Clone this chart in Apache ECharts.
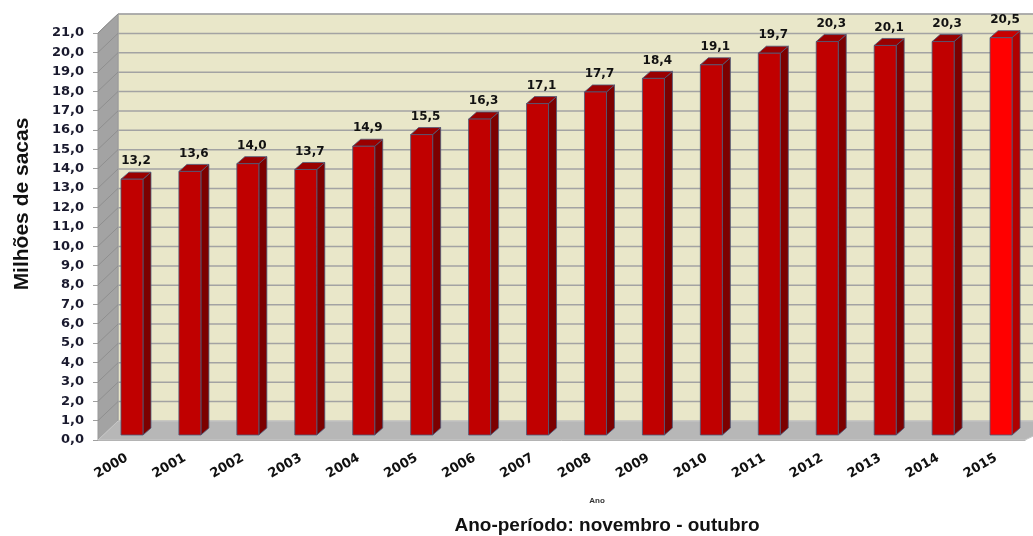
<!DOCTYPE html>
<html>
<head>
<meta charset="utf-8">
<script src="https://cdn.jsdelivr.net/npm/echarts@6/dist/echarts.min.js"></script>
<style>
    html, body { margin: 0; padding: 0; background: #ffffff; }
    #chart { width: 1033px; height: 536px; }
</style>
</head>
<body>
<div id="chart"></div>
<script>
    var years = ['2000', '2001', '2002', '2003', '2004', '2005', '2006', '2007',
                 '2008', '2009', '2010', '2011', '2012', '2013', '2014', '2015'];
    var sacas = [13.2, 13.6, 14.0, 13.7, 14.9, 15.5, 16.3, 17.1,
                 17.7, 18.4, 19.1, 19.7, 20.3, 20.1, 20.3, 20.5];
    var yTicks = [0, 1, 2, 3, 4, 5, 6, 7, 8, 9, 10, 11, 12, 13, 14, 15, 16, 17, 18, 19, 20, 21];

    var chart = echarts.init(document.getElementById('chart'));

    // profundidade da parede de fundo
    var BX = 20, BY = -19;
    // barra: recuo da face frontal e profundidade
    var FX = 5, FY = -5, DX = 8, DY = -7, BAR_W = 22;

    function fmt(v) {
        return v.toFixed(1).replace('.', ',');
    }

    function renderWalls(params, api) {
        var cs = params.coordSys;
        var x0 = cs.x, x1 = cs.x + cs.width;
        var yBottom = api.coord([0, 0])[1];
        var yTop = api.coord([0, 21])[1];
        var children = [];

        // parede de fundo
        children.push({
            type: 'rect',
            shape: { x: x0 + BX, y: yTop + BY, width: cs.width + 40, height: yBottom - yTop },
            style: { fill: '#e9e7c9', stroke: '#a8a8a8', lineWidth: 1 }
        });
        // parede lateral
        children.push({
            type: 'polygon',
            shape: { points: [[x0, yTop], [x0 + BX, yTop + BY], [x0 + BX, yBottom + BY], [x0, yBottom]] },
            style: { fill: '#a3a3a3', stroke: '#999999', lineWidth: 1 }
        });
        // chão
        children.push({
            type: 'polygon',
            shape: { points: [[x0, yBottom], [x0 + BX, yBottom + BY], [x1 + BX + 20, yBottom + BY], [x1, yBottom]] },
            style: { fill: '#b7b7b7', stroke: '#c8c8c8', lineWidth: 1 }
        });

        yTicks.forEach(function(v) {
            if (v === 0) return;
            var y = api.coord([0, v])[1];
            children.push({
                type: 'line',
                shape: { x1: x0 + BX, y1: y + BY, x2: x1 + BX + 40, y2: y + BY },
                style: { stroke: '#a3a3a3', lineWidth: 1.5 }
            });
            children.push({
                type: 'line',
                shape: { x1: x0, y1: y, x2: x0 + BX, y2: y + BY },
                style: { stroke: '#8f8f8f', lineWidth: 1 }
            });
        });

        return { type: 'group', silent: true, children: children };
    }

    function renderBar(params, api) {
        var i = api.value(0);
        var v = api.value(1);
        var top = api.coord([i, v]);
        var base = api.coord([i, 0]);
        var cx = top[0] + FX;
        var xl = cx - BAR_W / 2, xr = cx + BAR_W / 2;
        var yt = top[1] + FY, yb = base[1] + FY;
        var last = i === years.length - 1;
        var front = last ? '#ff0000' : '#c00000';
        var side = last ? '#b00000' : '#7c0000';
        var cap = last ? '#c80000' : '#9a0000';
        var edge = '#4b5a7a';

        return {
            type: 'group',
            children: [
                {
                    type: 'polygon',
                    shape: { points: [[xr, yt], [xr + DX, yt + DY], [xr + DX, yb + DY], [xr, yb]] },
                    style: { fill: side, stroke: edge, lineWidth: 0.8 }
                },
                {
                    type: 'polygon',
                    shape: { points: [[xl, yt], [xl + DX, yt + DY], [xr + DX, yt + DY], [xr, yt]] },
                    style: { fill: cap, stroke: edge, lineWidth: 0.8 }
                },
                {
                    type: 'rect',
                    shape: { x: xl, y: yt, width: BAR_W, height: yb - yt },
                    style: { fill: front, stroke: edge, lineWidth: 0.8 }
                },
                {
                    type: 'text',
                    x: cx + DX / 2,
                    y: yt + DY - 11,
                    style: {
                        text: fmt(v),
                        fill: '#111111',
                        font: 'bold 12px "DejaVu Sans"',
                        align: 'center',
                        verticalAlign: 'middle'
                    }
                }
            ]
        };
    }

    var option = {
        animation: false,
        backgroundColor: '#ffffff',
        graphic: [
            {
                type: 'text',
                x: 22,
                y: 204,
                rotation: Math.PI / 2,
                style: {
                    text: 'Milhões de sacas',
                    font: 'bold 21px "Liberation Sans"',
                    fill: '#111111',
                    align: 'center',
                    verticalAlign: 'middle'
                }
            },
            {
                type: 'text',
                x: 597,
                y: 501,
                style: {
                    text: 'Ano',
                    font: 'bold 8px "Liberation Sans"',
                    fill: '#333333',
                    align: 'center',
                    verticalAlign: 'middle'
                }
            },
            {
                type: 'text',
                x: 607,
                y: 526,
                style: {
                    text: 'Ano-período: novembro - outubro',
                    font: 'bold 19px "Liberation Sans"',
                    fill: '#111111',
                    align: 'center',
                    verticalAlign: 'middle'
                }
            }
        ],
        grid: { left: 98, right: 8, top: 33, bottom: 96 },
        xAxis: {
            type: 'category',
            data: years,
            axisLine: { lineStyle: { color: '#a0a0a0' } },
            axisTick: { length: 5, lineStyle: { color: '#a0a0a0' } },
            axisLabel: {
                rotate: 30,
                margin: 17,
                fontFamily: 'DejaVu Sans',
                fontWeight: 'bold',
                fontSize: 13,
                color: '#111111'
            }
        },
        yAxis: {
            type: 'value',
            min: 0,
            max: 21,
            interval: 1,
            axisLine: { show: true, lineStyle: { color: '#a0a0a0' } },
            axisTick: { show: true, length: 5, lineStyle: { color: '#a0a0a0' } },
            splitLine: { show: false },
            axisLabel: {
                formatter: function(v) { return fmt(v); },
                fontFamily: 'DejaVu Sans',
                fontWeight: 'bold',
                fontSize: 13,
                color: '#1a1a2e',
                margin: 14
            }
        },
        series: [
            {
                type: 'custom',
                renderItem: renderWalls,
                data: [[0, 0]],
                z: 1,
                silent: true
            },
            {
                type: 'custom',
                renderItem: renderBar,
                data: sacas.map(function(v, i) { return [i, v]; }),
                encode: { x: 0, y: 1 },
                z: 2
            }
        ]
    };

    chart.setOption(option);
</script>
</body>
</html>
